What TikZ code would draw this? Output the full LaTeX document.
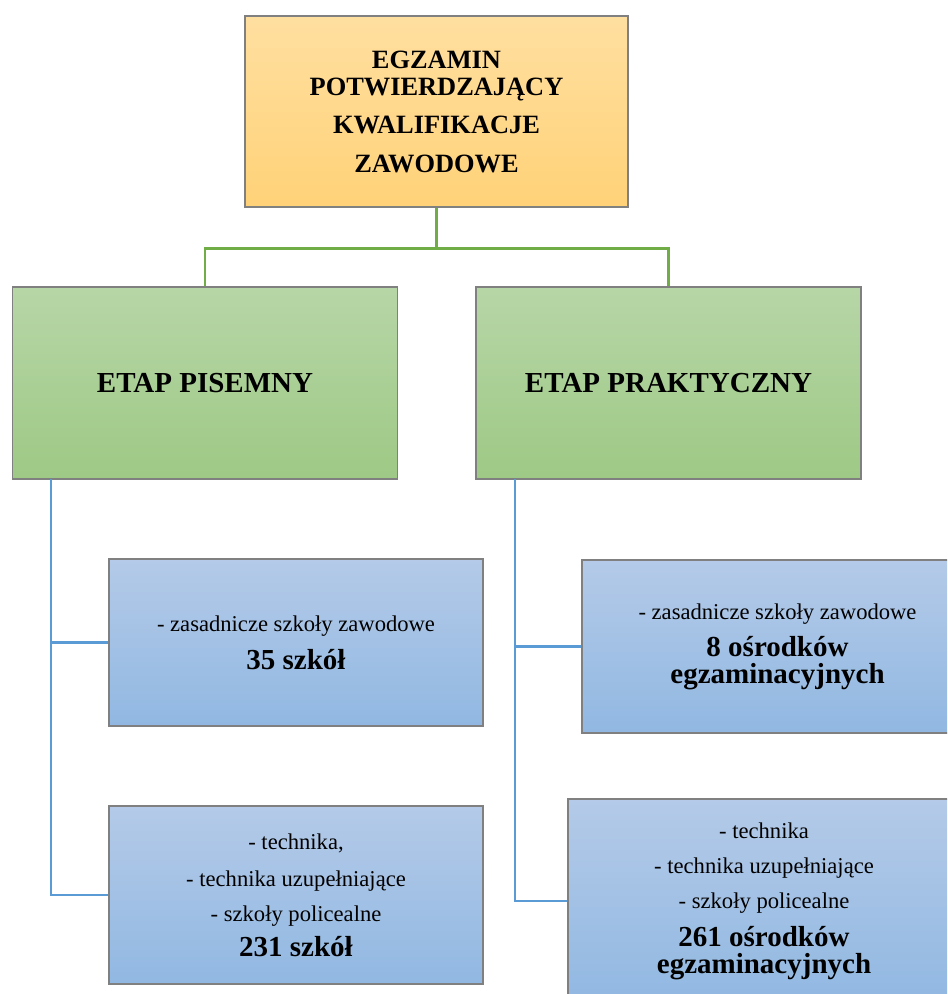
\documentclass[tikz,border=0pt]{standalone}
\usepackage{fontspec}
\setmainfont{Liberation Serif}
\definecolor{boxgray}{RGB}{128,128,128}
\definecolor{orangetop}{RGB}{255,223,160}
\definecolor{orangebot}{RGB}{255,210,120}
\definecolor{greentop}{RGB}{183,214,167}
\definecolor{greenbot}{RGB}{158,201,133}
\definecolor{bluetop}{RGB}{180,202,232}
\definecolor{bluebot}{RGB}{145,184,226}
\definecolor{greenlink}{RGB}{112,173,71}
\definecolor{bluelink}{RGB}{91,155,213}
\newcommand\numfont{\bfseries\fontsize{14.5}{13.5}\selectfont}

\begin{document}
\begin{tikzpicture}[x=0.5pt,y=-0.5pt,
    box/.style={draw=boxgray,line width=0.7pt,align=center,inner sep=0pt},
    headbox/.style={box,top color=orangetop,bottom color=orangebot,
        font=\bfseries\fontsize{13.2}{13.5}\selectfont},
    etapbox/.style={box,top color=greentop,bottom color=greenbot,
        minimum width=192.5pt,minimum height=96pt,
        font=\bfseries\fontsize{14.5}{17}\selectfont},
    schoolbox/.style={box,top color=bluetop,bottom color=bluebot,
        font=\fontsize{11.3}{17.5}\selectfont},
    greenline/.style={draw=greenlink,line width=1.3pt},
    blueline/.style={draw=bluelink,line width=1.25pt}]
    \useasboundingbox (0,0) rectangle (947,994);
    \clip (0,0) rectangle (947,994);
    \node[headbox,minimum width=191.5pt,minimum height=95.5pt] (top) at (436.5,111.5)
        {EGZAMIN\\ POTWIERDZAJĄCY\\[5.5pt] KWALIFIKACJE\\[6pt] ZAWODOWE};
    \node[etapbox] (pisemny) at (205,383) {ETAP PISEMNY};
    \node[etapbox] (praktyczny) at (668.5,383) {ETAP PRAKTYCZNY};
    \node[schoolbox,minimum width=187pt,minimum height=83.5pt] (zsz1) at (296,642.5)
        {- zasadnicze szkoły zawodowe\\[1.5pt] {\numfont 35 szkół}};
    \node[schoolbox,minimum width=187pt,minimum height=89pt] (tech1) at (296,895)
        {- technika,\\[1pt] - technika uzupełniające\\ - szkoły policealne\\ {\numfont 231 szkół}};
    \node[schoolbox,minimum width=195.5pt,minimum height=86.5pt] (zsz2) at (777.5,646.5)
        {- zasadnicze szkoły zawodowe\\[1pt] {\numfont 8 ośrodków}\\[-4pt] {\numfont egzaminacyjnych}};
    \node[schoolbox,minimum width=196pt,minimum height=102pt] (tech2) at (764,901)
        {- technika\\ - technika uzupełniające\\ - szkoły policealne\\[1.5pt] {\numfont 261 ośrodków}\\[-4pt] {\numfont egzaminacyjnych}};
    \draw[greenline] (top.south) -- ++(0,41) coordinate (split) -| (pisemny.north);
    \draw[greenline] (split) -| (praktyczny.north);
    \coordinate (pisdown) at (51,479);
    \coordinate (prakdown) at (515,479);
    \draw[blueline] (pisdown) |- (zsz1.west);
    \draw[blueline] (pisdown) |- (tech1.west);
    \draw[blueline] (prakdown) |- (zsz2.west);
    \draw[blueline] (prakdown) |- (tech2.west);
\end{tikzpicture}
\end{document}
